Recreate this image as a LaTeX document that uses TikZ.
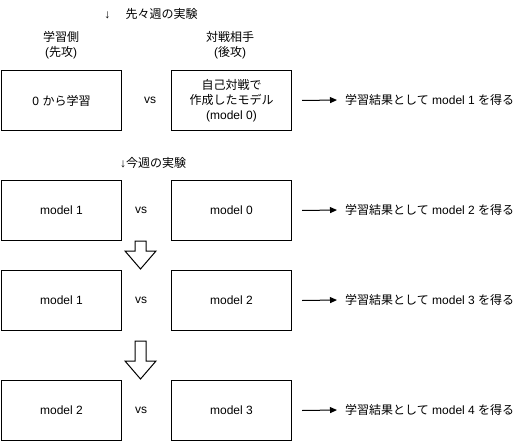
\documentclass[tikz,border=0pt]{standalone}
\usepackage{fontspec}
\setmainfont{Liberation Sans}
\newfontfamily\jp{Noto Sans CJK JP}
\usetikzlibrary{arrows.meta}
\begin{document}
\begin{tikzpicture}[x=1pt,y=-1pt,
  box/.style={draw,line width=1pt,minimum width=120pt,minimum height=60pt,anchor=north west,inner sep=0pt,font=\fontsize{12}{15}\selectfont,align=center},
  lbl/.style={font=\fontsize{12}{15}\selectfont,align=center,inner sep=0pt},
  res/.style={-{Triangle[length=7pt,width=6pt]},line width=1pt},
  blockarrow/.style={draw,line width=1pt,fill=white}]
\useasboundingbox (0,0) rectangle (521,441);

\node[lbl] (t1) at (151,14) {↓ {\jp 　先々週の実験}};
\node[lbl] (h1) at (61,45) {{\jp 学習側}\\({\jp 先攻})};
\node[lbl] (h2) at (230,45) {{\jp 対戦相手}\\({\jp 後攻})};

\node[box] (a1) at (1,70) {0 {\jp から学習}};
\node[box] (b1) at (171,70) {{\jp 自己対戦で}\\{\jp 作成したモデル}\\(model 0)};
\node[lbl] (v1) at (150,100) {vs};
\node[lbl,anchor=west] (r1) at (345,100) {{\jp 学習結果として} model 1 {\jp を得る}};
\draw[res] ([xshift=10pt]b1.east) -- ([xshift=-8pt]r1.west);

\node[lbl] (t2) at (153,163) {↓{\jp 今週の実験}};

\node[box] (a2) at (1,180) {model 1};
\node[box] (b2) at (171,180) {model 0};
\node[lbl] (v2) at (141,210) {vs};
\node[lbl,anchor=west] (r2) at (345,210) {{\jp 学習結果として} model 2 {\jp を得る}};
\draw[res] ([xshift=10pt]b2.east) -- ([xshift=-8pt]r2.west);

\node[box] (a3) at (1,270) {model 1};
\node[box] (b3) at (171,270) {model 2};
\node[lbl] (v3) at (141,300) {vs};
\node[lbl,anchor=west] (r3) at (345,300) {{\jp 学習結果として} model 3 {\jp を得る}};
\draw[res] ([xshift=10pt]b3.east) -- ([xshift=-8pt]r3.west);

\node[box] (a4) at (1,380) {model 2};
\node[box] (b4) at (171,380) {model 3};
\node[lbl] (v4) at (141,410) {vs};
\node[lbl,anchor=west] (r4) at (345,410) {{\jp 学習結果として} model 4 {\jp を得る}};
\draw[res] ([xshift=10pt]b4.east) -- ([xshift=-8pt]r4.west);

\draw[blockarrow] (135,241) -- (146,241) -- (146,251) -- (156,251) -- (140.5,269) -- (125,251) -- (135,251) -- cycle;
\draw[blockarrow] (135,341) -- (146,341) -- (146,361) -- (156,361) -- (140.5,379) -- (125,361) -- (135,361) -- cycle;
\end{tikzpicture}
\end{document}
